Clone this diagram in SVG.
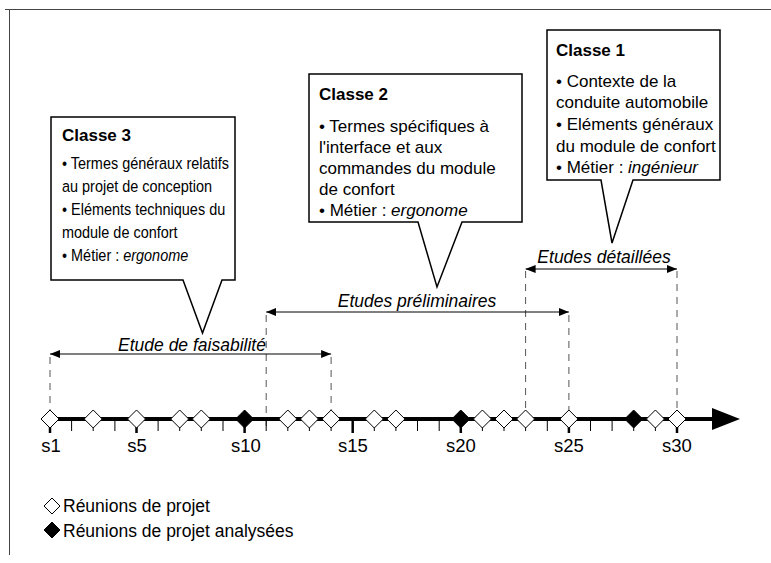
<svg xmlns="http://www.w3.org/2000/svg" width="771" height="563" viewBox="0 0 771 563">
<style>
text{font-family:"Liberation Sans",Arial,sans-serif;fill:#000}
.t{font-size:17px}
.h{font-size:17px;font-weight:bold}
.ax{font-size:18.5px}
.lab{font-size:17.5px;font-style:italic}
.lg{font-size:17.5px}
.box{fill:#fff;stroke:#000;stroke-width:1.5;stroke-linejoin:miter}
.dash{stroke:#555;stroke-width:1;stroke-dasharray:7,6;fill:none}
.arr{stroke:#000;stroke-width:1;fill:none;marker-start:url(#ah);marker-end:url(#ah)}
.tk{stroke:#000;stroke-width:1}
.tkm{stroke:#000;stroke-width:2.5}
.dw{fill:#fff;stroke:#000;stroke-width:1}
.db{fill:#000;stroke:#000;stroke-width:1}
</style>
<defs>
<marker id="ah" viewBox="0 0 10 8" refX="10" refY="4" markerWidth="10" markerHeight="8" markerUnits="userSpaceOnUse" orient="auto-start-reverse">
<path d="M0,0 L10,4 L0,8 Z" fill="#000"/>
</marker>
<path id="dm" d="M0,-9 L9,0 L0,9 L-9,0 Z"/>
</defs>
<rect width="771" height="563" fill="#fff"/>
<g id="frame" stroke="#444" stroke-width="1" fill="none">
<path d="M5,9.5 H771"/>
<path d="M9.5,9 V555"/>
</g>

<g id="connectors">
<path class="dash" d="M50,357 V410"/>
<path class="dash" d="M266.2,315 V430"/>
<path class="dash" d="M331.1,357 V410"/>
<path class="dash" d="M525.6,271 V410"/>
<path class="dash" d="M568.9,315 V410"/>
<path class="dash" d="M677,271 V410"/>
<path class="arr" d="M50,354 H331.1"/>
<path class="arr" d="M266.2,312 H568.9"/>
<path class="arr" d="M525.6,269 H677"/>
</g>

<g id="period-labels">
<text class="lab" x="192" y="351" text-anchor="middle">Etude de faisabilité</text>
<text class="lab" x="417" y="307" text-anchor="middle">Etudes préliminaires</text>
<text class="lab" x="604" y="263" text-anchor="middle">Etudes détaillées</text>
</g>

<g id="axis">
<path d="M50,419 H714" stroke="#000" stroke-width="4"/>
<path d="M712,408 L740,419 L712,430 Z" fill="#000"/>
<g>
<path class="tkm" d="M50,419 V433"/>
<path class="tk" d="M71.6,419 V431"/>
<path class="tk" d="M93.2,419 V431"/>
<path class="tk" d="M114.9,419 V431"/>
<path class="tkm" d="M136.5,419 V433"/>
<path class="tk" d="M158.1,419 V431"/>
<path class="tk" d="M179.7,419 V431"/>
<path class="tk" d="M201.3,419 V431"/>
<path class="tk" d="M223,419 V431"/>
<path class="tkm" d="M244.6,419 V433"/>
<path class="tk" d="M266.2,419 V431"/>
<path class="tk" d="M287.8,419 V431"/>
<path class="tk" d="M309.4,419 V431"/>
<path class="tk" d="M331.1,419 V431"/>
<path class="tkm" d="M352.7,419 V433"/>
<path class="tk" d="M374.3,419 V431"/>
<path class="tk" d="M395.9,419 V431"/>
<path class="tk" d="M417.5,419 V431"/>
<path class="tk" d="M439.2,419 V431"/>
<path class="tkm" d="M460.8,419 V433"/>
<path class="tk" d="M482.4,419 V431"/>
<path class="tk" d="M504,419 V431"/>
<path class="tk" d="M525.6,419 V431"/>
<path class="tk" d="M547.3,419 V431"/>
<path class="tkm" d="M568.9,419 V433"/>
<path class="tk" d="M590.5,419 V431"/>
<path class="tk" d="M612.1,419 V431"/>
<path class="tk" d="M633.7,419 V431"/>
<path class="tk" d="M655.4,419 V431"/>
<path class="tkm" d="M677,419 V433"/>
</g>
<g>
<use href="#dm" class="dw" x="50" y="419"/>
<use href="#dm" class="dw" x="93.2" y="419"/>
<use href="#dm" class="dw" x="136.5" y="419"/>
<use href="#dm" class="dw" x="179.7" y="419"/>
<use href="#dm" class="dw" x="201.3" y="419"/>
<use href="#dm" class="db" x="244.6" y="419"/>
<use href="#dm" class="dw" x="287.8" y="419"/>
<use href="#dm" class="dw" x="309.4" y="419"/>
<use href="#dm" class="dw" x="331.1" y="419"/>
<use href="#dm" class="dw" x="374.3" y="419"/>
<use href="#dm" class="dw" x="395.9" y="419"/>
<use href="#dm" class="db" x="460.8" y="419"/>
<use href="#dm" class="dw" x="482.4" y="419"/>
<use href="#dm" class="dw" x="504" y="419"/>
<use href="#dm" class="dw" x="525.6" y="419"/>
<use href="#dm" class="dw" x="568.9" y="419"/>
<use href="#dm" class="db" x="633.7" y="419"/>
<use href="#dm" class="dw" x="655.4" y="419"/>
<use href="#dm" class="dw" x="677" y="419"/>
</g>
<g text-anchor="middle">
<text class="ax" x="51" y="452">s1</text>
<text class="ax" x="137" y="452">s5</text>
<text class="ax" x="246" y="452">s10</text>
<text class="ax" x="353" y="452">s15</text>
<text class="ax" x="461" y="452">s20</text>
<text class="ax" x="569" y="452">s25</text>
<text class="ax" x="677" y="452">s30</text>
</g>
</g>

<g id="classe3">
<path class="box" d="M51,117 H235 V280 H222 L202.5,333 L183,280 H51 Z"/>
<text class="h" x="62" y="141">Classe 3</text>
<g transform="translate(62,0) scale(0.85,1)">
<text class="t" x="0" y="169">• Termes généraux relatifs</text>
<text class="t" x="0" y="192">au projet de conception</text>
<text class="t" x="0" y="215">• Eléments techniques du</text>
<text class="t" x="0" y="238">module de confort</text>
<text class="t" x="0" y="261">• Métier : <tspan font-style="italic">ergonome</tspan></text>
</g>
</g>

<g id="classe2">
<path class="box" d="M309,74 H522 V222 H462 L437,287 L418,222 H309 Z"/>
<text class="h" x="319" y="100">Classe 2</text>
<text class="t" x="319" y="132">• Termes spécifiques à</text>
<text class="t" x="319" y="153">l'interface et aux</text>
<text class="t" x="319" y="174">commandes du module</text>
<text class="t" x="319" y="195">de confort</text>
<text class="t" x="319" y="216">• Métier : <tspan font-style="italic">ergonome</tspan></text>
</g>

<g id="classe1">
<path class="box" d="M547,30 H720 V180 H633 L612,243 L601,180 H547 Z"/>
<text class="h" x="556" y="56">Classe 1</text>
<text class="t" x="556" y="87">• Contexte de la</text>
<text class="t" x="556" y="108">conduite automobile</text>
<text class="t" x="556" y="130">• Eléments généraux</text>
<text class="t" x="556" y="152">du module de confort</text>
<text class="t" x="556" y="173">• Métier : <tspan font-style="italic">ingénieur</tspan></text>
</g>

<g id="legend">
<path d="M52,498 L60,506 L52,514 L44,506 Z" class="dw"/>
<text class="lg" x="63" y="512">Réunions de projet</text>
<path d="M52,522 L60,530 L52,538 L44,530 Z" class="db"/>
<text class="lg" x="63" y="537">Réunions de projet analysées</text>
</g>
</svg>
